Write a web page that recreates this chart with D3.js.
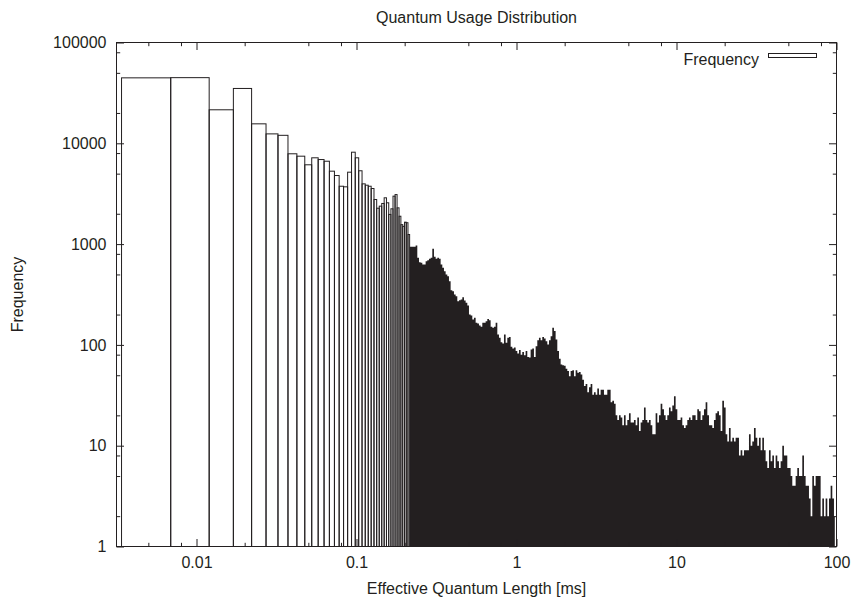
<!DOCTYPE html>
<html><head><meta charset="utf-8">
<script src="https://cdn.jsdelivr.net/npm/d3@7"></script>
<style>
html,body{margin:0;padding:0;background:#fff;}
svg{display:block;font-family:"Liberation Sans",Arial,Helvetica,sans-serif;}
</style></head><body>
<svg id="chart" width="853" height="601"></svg>
<script>
// ---- data ----
// histogram bin edges [ms] of the individually visible boxes (n+1 edges)
const binEdges = [0.0034, 0.0069, 0.0120, 0.0170, 0.0221, 0.0272, 0.0323, 0.0373, 0.0424, 0.0475,
  0.0525, 0.0576, 0.0627, 0.0677, 0.0728, 0.0779, 0.0830, 0.0880, 0.0931, 0.0982,
  0.1032, 0.1083, 0.1134, 0.1184, 0.1235, 0.1286, 0.1337, 0.1387, 0.1438, 0.1489,
  0.1539, 0.1590, 0.1641, 0.1691, 0.1742, 0.1793, 0.1844, 0.1894, 0.1945, 0.1996,
  0.2046, 0.2097, 0.2148];
const binFreq = [44600, 44800, 21500, 35000, 15600, 12400, 12000, 7870, 7450, 6120,
  7180, 6900, 6640, 5290, 4790, 3750, 3700, 5170, 8160, 7180,
  5340, 3960, 3840, 3750, 3560, 2770, 2270, 2380, 2530, 2880,
  2570, 1970, 2240, 2990, 3100, 2290, 1890, 1560, 1500, 1650,
  1630, 1245];
// beyond ~0.21 ms the boxes merge into a solid area: its upper envelope
const denseX = [0.2148, 0.2259, 0.2314, 0.2370, 0.2428, 0.2487, 0.2547, 0.2609, 0.2672, 0.2737,
  0.2804, 0.2872, 0.2941, 0.3013, 0.3086, 0.3161, 0.3238, 0.3316, 0.3397, 0.3479,
  0.3564, 0.3650, 0.3739, 0.3829, 0.3922, 0.4018, 0.4115, 0.4215, 0.4317, 0.4422,
  0.4530, 0.4640, 0.4752, 0.4868, 0.4986, 0.5107, 0.5231, 0.5358, 0.5488, 0.5621,
  0.5757, 0.5897, 0.6040, 0.6187, 0.6337, 0.6491, 0.6649, 0.6810, 0.6975, 0.7145,
  0.7318, 0.7496, 0.7678, 0.7864, 0.8055, 0.8250, 0.8451, 0.8656, 0.8866, 0.9081,
  0.9302, 0.9528, 0.9759, 0.9996, 1.024, 1.049, 1.074, 1.100, 1.127, 1.154,
  1.182, 1.211, 1.240, 1.270, 1.301, 1.333, 1.365, 1.398, 1.432, 1.467,
  1.503, 1.539, 1.577, 1.615, 1.654, 1.694, 1.735, 1.777, 1.821, 1.865,
  1.910, 1.956, 2.004, 2.053, 2.102, 2.153, 2.206, 2.259, 2.314, 2.370,
  2.428, 2.487, 2.547, 2.609, 2.672, 2.737, 2.804, 2.872, 2.941, 3.013,
  3.086, 3.161, 3.237, 3.316, 3.397, 3.479, 3.563, 3.650, 3.739, 3.829,
  3.922, 4.018, 4.115, 4.215, 4.317, 4.422, 4.529, 4.639, 4.752, 4.867,
  4.985, 5.107, 5.230, 5.357, 5.488, 5.621, 5.757, 5.897, 6.040, 6.187,
  6.337, 6.491, 6.648, 6.810, 6.975, 7.144, 7.318, 7.495, 7.677, 7.864,
  8.055, 8.250, 8.450, 8.656, 8.866, 9.081, 9.301, 9.527, 9.758, 9.995,
  10.24, 10.49, 10.74, 11.00, 11.27, 11.54, 11.82, 12.11, 12.40, 12.70,
  13.01, 13.33, 13.65, 13.98, 14.32, 14.67, 15.03, 15.39, 15.77, 16.15,
  16.54, 16.94, 17.35, 17.77, 18.21, 18.65, 19.10, 19.56, 20.04, 20.53,
  21.02, 21.53, 22.06, 22.59, 23.14, 23.70, 24.28, 24.87, 25.47, 26.09,
  26.72, 27.37, 28.04, 28.72, 29.41, 30.13, 30.86, 31.61, 32.37, 33.16,
  33.97, 34.79, 35.63, 36.50, 37.39, 38.29, 39.22, 40.18, 41.15, 42.15,
  43.17, 44.22, 45.29, 46.39, 47.52, 48.67, 49.85, 51.07, 52.30, 53.57,
  54.88, 56.21, 57.57, 58.97, 60.40, 61.87, 63.37, 64.91, 66.48, 68.10,
  69.75, 71.44, 73.18, 74.95, 76.77, 78.64, 80.55, 82.50, 84.50, 86.56,
  88.66, 90.81, 93.01, 95.27, 97.58];
const denseFreq = [940, 940, 940, 969, 731, 661, 652, 628, 628, 677,
  692, 715, 731, 898, 748, 715, 731, 715, 628, 582,
  538, 499, 480, 428, 349, 341, 316, 304, 271, 278,
  282, 297, 276, 262, 246, 200, 196, 179, 186, 166,
  163, 156, 151, 166, 166, 172, 181, 176, 151, 148,
  151, 166, 127, 118, 106, 103, 127, 105, 118, 120,
  96, 92, 94, 87, 82, 89, 80, 85, 79, 87,
  76, 75, 90, 92, 76, 97, 111, 118, 111, 120,
  116, 109, 101, 111, 122, 148, 137, 113, 87, 73,
  64, 63, 62, 58, 55, 49, 55, 56, 49, 56,
  53, 54, 51, 45, 39, 41, 34, 38, 41, 32,
  34, 32, 37, 32, 36, 36, 32, 32, 36, 36,
  27, 28, 26, 20, 18, 20, 19, 16, 20, 16,
  18, 21, 17, 17, 18, 16, 19, 14, 17, 18,
  24, 18, 17, 18, 16, 13, 13, 21, 17, 20,
  26, 23, 20, 18, 20, 24, 22, 25, 31, 23,
  18, 18, 19, 16, 15, 16, 18, 19, 18, 20,
  20, 18, 23, 22, 18, 20, 23, 27, 20, 16,
  16, 15, 18, 21, 22, 20, 14, 28, 24, 13,
  11, 15, 11, 12, 11, 12, 12, 8, 9, 8,
  9, 9, 9, 13, 10, 11, 15, 12, 10, 12,
  9, 12, 9, 7, 6, 9, 7, 8, 6, 8,
  7, 6, 7, 10, 8, 8, 6, 6, 5, 4,
  4, 5, 6, 5, 5, 8, 5, 4, 4, 3,
  2, 5, 4, 5, 5, 5, 2, 3, 2, 3,
  2, 3, 4, 3, 2];
const xTickValues = [0.01, 0.1, 1, 10, 100];
const xTickLabels = ["0.01", "0.1", "1", "10", "100"];
const yTickValues = [1, 10, 100, 1000, 10000, 100000];
const yTickLabels = ["1", "10", "100", "1000", "10000", "100000"];
const minorMultipliers = [2, 5, 8];
const chartTitle = "Quantum Usage Distribution";
const xTitle = "Effective Quantum Length [ms]";
const yTitle = "Frequency";
const seriesName = "Frequency";

// ---- layout ----
const ink = "#231f20";
const m = {left: 116.5, right: 836.5, top: 42.5, bottom: 546.5};
const x = d3.scaleLog().domain([Math.pow(10, -2.5), 100]).range([m.left, m.right]);
const y = d3.scaleLog().domain([1, 100000]).range([m.bottom, m.top]);
const svg = d3.select("#chart");

const minorOf = (scale) => {
  const [a, b] = scale.domain();
  const out = [];
  for (let e = Math.floor(Math.log10(a)) - 1; e <= Math.ceil(Math.log10(b)); e++)
    minorMultipliers.forEach(k => { const v = k * Math.pow(10, e); if (v >= a && v <= b) out.push(v); });
  return out;
};

svg.append("defs").append("clipPath").attr("id", "plotclip").append("rect")
  .attr("x", m.left).attr("y", m.top).attr("width", m.right - m.left).attr("height", m.bottom - m.top);

const plot = svg.append("g").attr("clip-path", "url(#plotclip)");

// dense merged region
const bars = binFreq.map((f, i) => ({x0: binEdges[i], x1: binEdges[i + 1], f}));
const dense = denseX.map((v, i) => [v, denseFreq[i]]);
plot.append("path").datum(dense)
  .attr("fill", ink)
  .attr("d", d3.area().x(d => x(d[0])).y0(y(1)).y1(d => y(d[1])).curve(d3.curveStep));

// individual boxes (outline only)
plot.selectAll("rect.bar").data(bars).join("rect").attr("class", "bar")
  .attr("x", d => x(d.x0)).attr("width", d => x(d.x1) - x(d.x0))
  .attr("y", d => y(d.f)).attr("height", d => y(1) - y(d.f))
  .attr("fill", "none").attr("stroke", ink).attr("stroke-width", 1);

// axes
function styleAxis(g) {
  g.select(".domain").remove();
  g.selectAll("line").attr("stroke", ink).attr("stroke-width", 1);
  g.selectAll("text").attr("fill", ink).style("font-size", "16px")
    .style("font-family", '"Liberation Sans",Arial,Helvetica,sans-serif');
}
const major = 7.5, minor = 3.7;
svg.append("g").attr("transform", `translate(0,${m.bottom})`)
  .call(d3.axisBottom(x).tickValues(xTickValues).tickFormat((d, i) => xTickLabels[i]).tickSize(-major).tickPadding(10))
  .call(styleAxis);
svg.append("g").attr("transform", `translate(0,${m.bottom})`)
  .call(d3.axisBottom(x).tickValues(minorOf(x)).tickFormat("").tickSize(-minor)).call(styleAxis);
svg.append("g").attr("transform", `translate(0,${m.top})`)
  .call(d3.axisTop(x).tickValues(xTickValues).tickFormat("").tickSize(-major)).call(styleAxis);
svg.append("g").attr("transform", `translate(0,${m.top})`)
  .call(d3.axisTop(x).tickValues(minorOf(x)).tickFormat("").tickSize(-minor)).call(styleAxis);
svg.append("g").attr("transform", `translate(${m.left},0)`)
  .call(d3.axisLeft(y).tickValues(yTickValues).tickFormat((d, i) => yTickLabels[i]).tickSize(-major).tickPadding(10))
  .call(styleAxis);
svg.append("g").attr("transform", `translate(${m.left},0)`)
  .call(d3.axisLeft(y).tickValues(minorOf(y)).tickFormat("").tickSize(-minor)).call(styleAxis);
svg.append("g").attr("transform", `translate(${m.right},0)`)
  .call(d3.axisRight(y).tickValues(yTickValues).tickFormat("").tickSize(-major)).call(styleAxis);
svg.append("g").attr("transform", `translate(${m.right},0)`)
  .call(d3.axisRight(y).tickValues(minorOf(y)).tickFormat("").tickSize(-minor)).call(styleAxis);

// frame
svg.append("rect").attr("x", m.left).attr("y", m.top).attr("width", m.right - m.left).attr("height", m.bottom - m.top)
  .attr("fill", "none").attr("stroke", ink).attr("stroke-width", 1);

// titles
const txt = (s, xx, yy, anchor) => svg.append("text").attr("x", xx).attr("y", yy).attr("text-anchor", anchor)
  .attr("fill", ink).style("font-size", "16px").text(s);
txt(chartTitle, (m.left + m.right) / 2, 23, "middle");
txt(xTitle, (m.left + m.right) / 2, 594, "middle");
svg.append("text").attr("transform", `translate(23,${(m.top + m.bottom) / 2}) rotate(-90)`)
  .attr("text-anchor", "middle").attr("fill", ink).style("font-size", "16px").text(yTitle);

// legend
txt(seriesName, 759, 65, "end");
svg.append("rect").attr("x", 768.5).attr("y", 53.5).attr("width", 48).attr("height", 4)
  .attr("fill", "none").attr("stroke", ink).attr("stroke-width", 1);
</script>
</body></html>
